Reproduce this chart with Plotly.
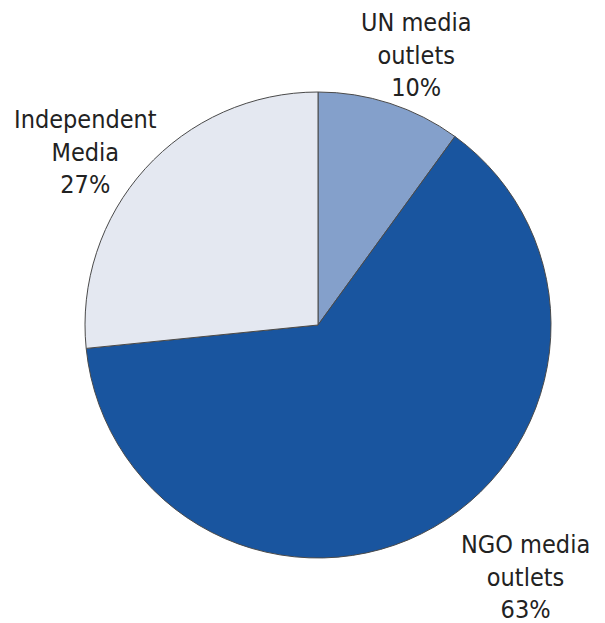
import plotly.graph_objects as go

categories = ["UN media outlets", "NGO media outlets", "Independent Media"]
values = [10.0, 63.4, 26.6]
label_lines = ["UN media<br>outlets", "NGO media<br>outlets", "Independent<br>Media"]
colors = ["#84a0cb", "#19559f", "#e4e8f1"]

W, H = 605, 623
cx, cy, r = 318, 325, 233

fig = go.Figure(go.Pie(
    labels=categories, values=values, sort=False, direction="clockwise",
    rotation=0, textinfo="none", hoverinfo="label+percent",
    marker=dict(colors=colors, line=dict(color="#4a4a4a", width=1)),
    domain=dict(x=[(cx - r) / W, (cx + r) / W], y=[1 - (cy + r) / H, 1 - (cy - r) / H]),
    showlegend=False,
))

label_pos = [(416, 55), (525, 577), (85, 152)]
total = sum(values)
for lab, v, (px, py) in zip(label_lines, values, label_pos):
    fig.add_annotation(
        x=px / W, y=1 - py / H, xref="paper", yref="paper",
        text=f"{lab}<br>{round(100 * v / total)}%", showarrow=False,
        xanchor="center", yanchor="middle", align="center",
        font=dict(family="DejaVu Sans Condensed, sans-serif", size=25, color="#222222"),
    )

fig.update_layout(width=W, height=H, margin=dict(l=0, r=0, t=0, b=0),
                  paper_bgcolor="white", plot_bgcolor="white")
fig.write_html("out.html")
